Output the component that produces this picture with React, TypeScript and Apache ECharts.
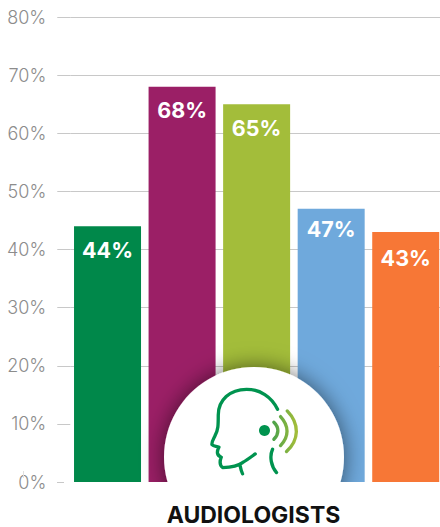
import React, { useEffect, useRef } from "react";
import * as echarts from "echarts";

const categories = ["Group 1", "Group 2", "Group 3", "Group 4", "Group 5"];
const values = [44, 68, 65, 47, 43];
const colors = ["#00884a", "#9b1f66", "#a3bd3a", "#6fa9dc", "#f77736"];
const labelGaps = [13, 12, 13, 9, 15];
const tickValues = [10, 20, 30, 40, 50, 60, 70, 80];
const axisTitle = "AUDIOLOGISTS";

echarts.graphic.registerShape(
  "headOutline",
  echarts.graphic.extendPath(
    "M383 178C365 140 330 118 290 118C240 118 205 150 205 195C205 225 205 240 195 258C190 268 185 275 186 284C192 290 200 288 207 292C200 305 200 316 214 322C210 332 208 345 218 353C240 352 262 350 278 338C292 330 305 320 316 312M270 345C272 355 274 364 278 372M368 298C358 320 364 350 380 368",
    {}
  )
);
echarts.graphic.registerShape(
  "soundWaves",
  echarts.graphic.extendPath(
    "M372 217C388 232 388 252 372 268M392 200C418 228 418 260 392 287M412 183C450 222 448 270 410 305",
    {}
  )
);

export default function App() {
  const ref = useRef<HTMLDivElement>(null);
  useEffect(() => {
    document.body.style.margin = "0";
    const chart = echarts.init(ref.current!, undefined, { renderer: "svg" });
    const fontFamily = "Inter, Lato, sans-serif";
    chart.setOption({
      animation: false,
      backgroundColor: "#ffffff",
      grid: { left: 70.25, right: 0, top: 17, bottom: 45, containLabel: false },
      xAxis: {
        type: "category",
        data: categories,
        axisLine: { show: false },
        axisTick: { show: false },
        axisLabel: { show: false },
      },
      yAxis: {
        type: "value",
        min: 0,
        max: 80,
        interval: 10,
        axisLine: { show: false },
        axisTick: {
          show: true,
          length: 13,
          customValues: tickValues,
          lineStyle: { color: "#c8c8c8", width: 1 },
        },
        axisLabel: {
          margin: 24,
          color: "#8c8c8c",
          fontSize: 18,
          fontWeight: 300,
          fontFamily,
          padding: [2, 0, 0, 0],
          formatter: "{value}%",
        },
        splitLine: { show: true, showMinLine: false, lineStyle: { color: "#c8c8c8", width: 1 } },
      },
      series: [
        {
          type: "bar",
          barWidth: 67,
          data: values.map((v, i) => ({
            value: v,
            itemStyle: { color: colors[i] },
            label: { distance: labelGaps[i] },
          })),
          label: {
            show: true,
            position: "insideTop",
            color: "#ffffff",
            fontSize: 21.5,
            fontWeight: 700,
            fontFamily,
            formatter: "{c}%",
          },
        },
      ],
      graphic: [
        { type: "line", z: 12, shape: { x1: 57, y1: 482.5, x2: 64, y2: 482.5 }, style: { stroke: "#c8c8c8", lineWidth: 1 } },
        { type: "line", z: 1, shape: { x1: 23.5, y1: 471, x2: 23.5, y2: 478 }, style: { stroke: "#e0e0e0", lineWidth: 1 } },
        {
          type: "circle",
          z: 10,
          shape: { cx: 254, cy: 457, r: 90 },
          style: { fill: "#ffffff", shadowBlur: 22, shadowColor: "rgba(0,0,0,0.55)", shadowOffsetX: 0, shadowOffsetY: 0 },
        },
        { type: "rect", z: 11, shape: { x: 64, y: 482, width: 380, height: 45 }, style: { fill: "#ffffff" } },
        {
          type: "text",
          z: 12,
          x: 253.5,
          y: 515,
          style: { text: axisTitle, fill: "#111111", fontSize: 23, fontWeight: 700, fontFamily, align: "center", verticalAlign: "middle" },
        },
        { type: "headOutline", z: 12, x: 150, y: 350, scaleX: 1 / 3, scaleY: 1 / 3, style: { fill: "none", stroke: "#00934f", lineWidth: 10, lineCap: "round", lineJoin: "round" } },
        {
          type: "soundWaves",
          z: 12,
          x: 150,
          y: 350,
          scaleX: 1 / 3,
          scaleY: 1 / 3,
          style: {
            fill: "none",
            lineWidth: 10,
            lineCap: "round",
            stroke: new echarts.graphic.LinearGradient(0, 0, 1, 0, [
              { offset: 0, color: "#4fa34a" },
              { offset: 1, color: "#a3bd3a" },
            ]),
          },
        },
        { type: "circle", z: 12, shape: { cx: 264.5, cy: 430.5, r: 5.5 }, style: { fill: "#00934f" } },
      ],
    });
    return () => chart.dispose();
  }, []);
  return (
    <div style={{ width: 440, height: 527, overflow: "hidden" }}>
      <div ref={ref} style={{ width: 442.75, height: 527 }} />
    </div>
  );
}
